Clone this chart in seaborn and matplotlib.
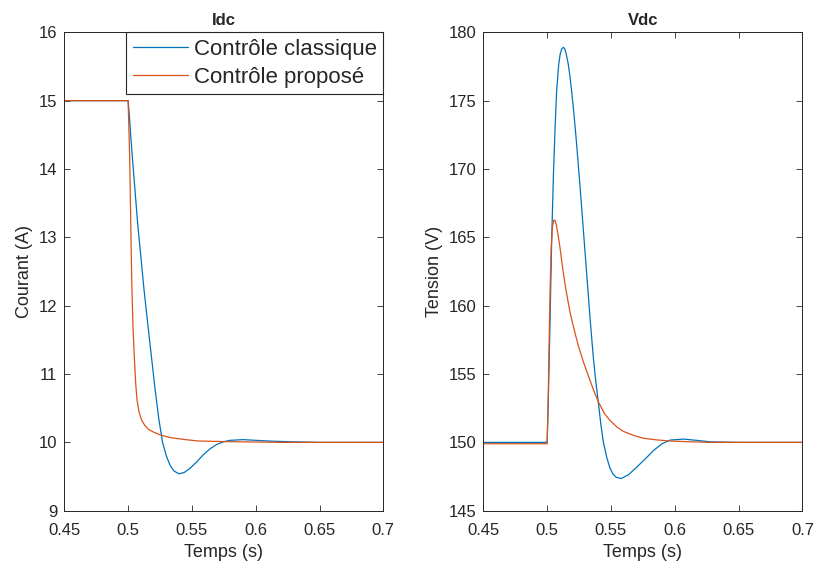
import matplotlib
matplotlib.use("Agg")
import matplotlib.pyplot as plt
import seaborn as sns
import pandas as pd

# ---- données ----
SERIES = ["Contrôle classique", "Contrôle proposé"]
TITLES = ["Idc", "Vdc"]
YLABELS = ["Courant (A)", "Tension (V)"]
XLABEL = "Temps (s)"

t_idc_classique = [0.45, 0.5, 0.501, 0.502, 0.5033, 0.5075, 0.5125, 0.515, 0.518, 0.521,
                   0.524, 0.527, 0.53, 0.533, 0.536, 0.54, 0.544, 0.5485, 0.554, 0.559,
                   0.5645, 0.5695, 0.575, 0.58, 0.59, 0.6, 0.61, 0.625, 0.65, 0.7]
idc_classique = [15.0, 15.0, 14.78, 14.5, 14.18, 13.2, 12.23, 11.8, 11.3, 10.8,
                 10.35, 10.0, 9.8, 9.66, 9.58, 9.54, 9.56, 9.62, 9.72, 9.82,
                 9.91, 9.97, 10.01, 10.03, 10.04, 10.03, 10.02, 10.01, 10.0, 10.0]

t_idc_propose = [0.45, 0.5, 0.5012, 0.502, 0.5028, 0.5038, 0.505, 0.506, 0.507, 0.5085,
                 0.5105, 0.513, 0.516, 0.52, 0.525, 0.533, 0.545, 0.555, 0.58, 0.62, 0.7]
idc_propose = [15.0, 15.0, 14.2, 13.3, 12.4, 11.7, 11.2, 10.85, 10.62, 10.45,
               10.33, 10.25, 10.19, 10.15, 10.11, 10.07, 10.04, 10.02, 10.01, 10.0, 10.0]

t_vdc_classique = [0.45, 0.5, 0.501, 0.5023, 0.5036, 0.5049, 0.5062, 0.5075, 0.509, 0.5102,
                   0.5115, 0.5127, 0.5138, 0.515, 0.5165, 0.518, 0.5193, 0.5206, 0.5219,
                   0.5232, 0.5258, 0.5284, 0.5311, 0.5336, 0.5362, 0.5382, 0.5402, 0.5421,
                   0.5441, 0.5467, 0.5493, 0.5515, 0.554, 0.558, 0.564, 0.5703, 0.577,
                   0.5833, 0.59, 0.5964, 0.6068, 0.617, 0.6277, 0.65, 0.7]
vdc_classique = [150.0, 150.0, 153.5, 159.0, 165.0, 169.5, 173.0, 175.8, 177.6, 178.4,
                 178.8, 178.9, 178.8, 178.4, 177.7, 176.7, 175.6, 174.4, 173.1,
                 171.7, 168.7, 165.5, 162.2, 159.1, 156.2, 154.4, 152.85, 151.3,
                 150.0, 148.9, 148.1, 147.7, 147.45, 147.35, 147.65, 148.2, 148.8,
                 149.4, 149.9, 150.17, 150.24, 150.15, 150.04, 150.0, 150.0]

t_vdc_propose = [0.45, 0.5, 0.5008, 0.5016, 0.5024, 0.5032, 0.5042, 0.5052, 0.5062, 0.5072,
                 0.5085, 0.51, 0.5115, 0.513, 0.5145, 0.516, 0.518, 0.52, 0.5225,
                 0.525, 0.528, 0.531, 0.5345, 0.5375, 0.5402, 0.545, 0.5493, 0.555,
                 0.5598, 0.568, 0.5754, 0.586, 0.5964, 0.61, 0.628, 0.7]
vdc_propose = [149.9, 149.9, 153.0, 157.5, 161.5, 164.3, 165.8, 166.25, 166.25, 165.9,
               165.2, 164.3, 163.2, 162.2, 161.3, 160.5, 159.5, 158.7, 157.75,
               156.9, 156.0, 155.2, 154.3, 153.55, 152.95, 152.1, 151.6, 151.1,
               150.8, 150.5, 150.3, 150.18, 150.1, 150.05, 150.0, 150.0]

XTICKS = [0.45, 0.5, 0.55, 0.6, 0.65, 0.7]
XTICKLABELS = ["0.45", "0.5", "0.55", "0.6", "0.65", "0.7"]
YTICKS_IDC = [9, 10, 11, 12, 13, 14, 15, 16]
YTICKS_VDC = [145, 150, 155, 160, 165, 170, 175, 180]

COLORS = ["#0072BD", "#D95319"]
AX_COLOR = "#262626"

sns.set_style("ticks")
plt.rcParams["font.family"] = ["Liberation Sans", "DejaVu Sans"]
plt.rcParams["axes.edgecolor"] = AX_COLOR
plt.rcParams["xtick.color"] = AX_COLOR
plt.rcParams["ytick.color"] = AX_COLOR

fig = plt.figure(figsize=(8.17, 5.70), dpi=100)
ax1 = fig.add_axes([0.0787, 0.104, 0.3905, 0.8393])
ax2 = fig.add_axes([0.5916, 0.104, 0.3905, 0.8393])

idc = pd.concat([
    pd.DataFrame({"t": t_idc_classique, "v": idc_classique, "serie": SERIES[0]}),
    pd.DataFrame({"t": t_idc_propose, "v": idc_propose, "serie": SERIES[1]}),
])
vdc = pd.concat([
    pd.DataFrame({"t": t_vdc_classique, "v": vdc_classique, "serie": SERIES[0]}),
    pd.DataFrame({"t": t_vdc_propose, "v": vdc_propose, "serie": SERIES[1]}),
])

for ax, df, yt, title, ylab, leg in [
    (ax1, idc, YTICKS_IDC, TITLES[0], YLABELS[0], True),
    (ax2, vdc, YTICKS_VDC, TITLES[1], YLABELS[1], False),
]:
    sns.lineplot(data=df, x="t", y="v", hue="serie", palette=COLORS, ax=ax,
                 estimator=None, sort=False, lw=0.9, legend=leg)
    ax.set_xlim(XTICKS[0], XTICKS[-1])
    ax.set_ylim(yt[0], yt[-1])
    ax.set_xticks(XTICKS)
    ax.set_xticklabels(XTICKLABELS)
    ax.set_yticks(yt)
    ax.tick_params(direction="in", length=4, width=0.6, top=True, right=True,
                   labelsize=12)
    ax.tick_params(axis="x", pad=9)
    ax.tick_params(axis="y", pad=5)
    for s in ax.spines.values():
        s.set_visible(True)
        s.set_linewidth(0.7)
        s.set_color(AX_COLOR)
    ax.set_title(title, fontsize=12, fontweight="bold", pad=5)
    ax.set_xlabel(XLABEL, fontsize=13, labelpad=4)
    ax.set_ylabel(ylab, fontsize=13, labelpad=4)

lg = ax1.legend(loc="upper right", borderaxespad=0, fancybox=False, framealpha=1,
                edgecolor=AX_COLOR, fontsize=16, handlelength=2.5, handletextpad=0.25,
                borderpad=0.3, labelspacing=0.3, title=None)
lg.get_frame().set_linewidth(0.8)

fig.savefig("out.png", dpi=100)
